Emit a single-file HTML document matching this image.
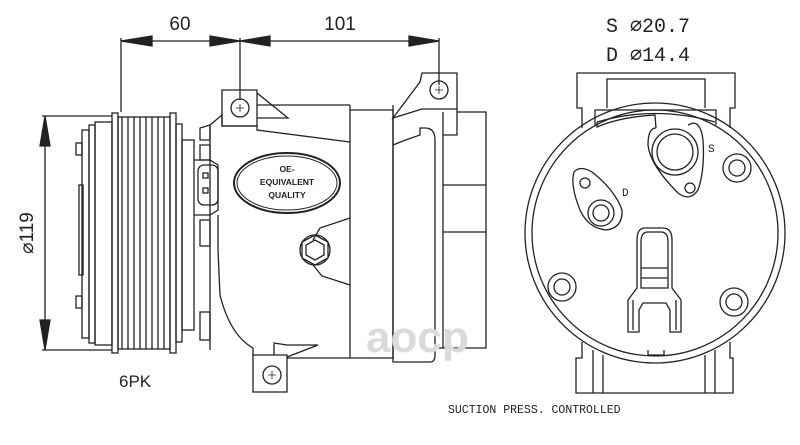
<!DOCTYPE html>
<html><head><meta charset="utf-8"><style>
html,body{margin:0;padding:0;background:#fff;width:800px;height:445px;overflow:hidden}
svg{display:block}
text{font-family:"Liberation Mono",monospace;fill:#222}
</style></head><body>
<svg width="800" height="445" viewBox="0 0 800 445" xmlns="http://www.w3.org/2000/svg">
<g stroke="#222" stroke-width="1.3" fill="none">
<line x1="121" y1="38" x2="121" y2="112"/>
<line x1="240" y1="38" x2="240" y2="100"/>
<line x1="439" y1="38" x2="439" y2="85"/>
<line x1="121" y1="41" x2="439" y2="41"/>
<polygon points="121,41 152,36 152,46" fill="#222"/>
<polygon points="240,41 210,36 210,46" fill="#222"/>
<polygon points="240,41 270,36 270,46" fill="#222"/>
<polygon points="439,41 409,36 409,46" fill="#222"/>
<line x1="42" y1="116" x2="112" y2="116"/>
<line x1="42" y1="350" x2="112" y2="350"/>
<line x1="45" y1="116" x2="45" y2="350"/>
<polygon points="45,116 40,146 50,146" fill="#222"/>
<polygon points="45,350 40,320 50,320" fill="#222"/>
<rect x="82" y="130" width="7" height="208"/>
<rect x="76" y="143" width="6" height="12"/><rect x="76" y="296" width="6" height="12"/>
<rect x="79" y="185" width="4" height="90"/>
<rect x="89" y="125" width="6" height="218"/>
<rect x="95" y="122" width="17" height="223"/>
<rect x="112" y="113" width="6" height="240"/>
<rect x="118" y="117" width="52" height="232"/>
<path d="M122 117 V349 M128 117 V349 M134 117 V349 M140 117 V349 M146 117 V349 M152 117 V349 M158 117 V349 M164 117 V349"/>
<rect x="170" y="113" width="6" height="240"/>
<rect x="176" y="124" width="6" height="218"/>
<rect x="182" y="140" width="12" height="190"/>
<path d="M200 128 L210 125 L210 140 L200 140 Z M200 145 L210 145 L210 160 L200 160 Z"/>
<path d="M194 160 L210 160 L218 165 L218 210 L210 215 L194 215"/>
<rect x="198" y="165" width="20" height="40" rx="6"/>
<rect x="203" y="173" width="5" height="5"/><rect x="203" y="188" width="5" height="5"/>
<rect x="200" y="220" width="10" height="26"/>
<rect x="200" y="312" width="10" height="28"/>
<path d="M210 125 L222 115 L222 126 L257 126 L257 130 L350 142"/>
<path d="M210 125 V350"/>
<path d="M218 215 L218 250 L220 295 Q230 335 253 348"/>
<path d="M222 90 H257 V126 H222 Z"/>
<circle cx="240" cy="108" r="9"/>
<path d="M240 104 V112 M236 108 H244" stroke-width="0.8"/>
<path d="M257 93 L288 118 L257 118"/>
<line x1="257" y1="105" x2="350" y2="105"/>
<line x1="350" y1="105" x2="350" y2="358"/>
<path d="M350 218 L320 228 L313 240 M313 265 L322 276 L350 285"/>
<path d="M253 348 L253 355 L287 355 L287 392 L253 392 Z"/>
<circle cx="272" cy="375" r="9"/>
<path d="M272 371 V379 M268 375 H276" stroke-width="0.8"/>
<path d="M287 357 L318 345 L287 345 L274 343 L274 355"/>
<path d="M287 358 H350"/>
<polygon points="315,235 328,242 328,258 315,265 302,258 302,242"/>
<circle cx="315" cy="250" r="15"/>
<polygon points="315,240 324,245 324,255 315,260 306,255 306,245"/>
<path d="M350 110 H393 V358 H350"/>
<path d="M393 105 V362 H430 Q435 362 435 355 V140 Q435 128 425 128 L420 128 L420 135 Q405 140 393 145"/>
<path d="M393 118 L420 82 L422 73 H457 V109 H422 Z"/>
<circle cx="439" cy="90" r="9"/>
<path d="M439 86 V94 M435 90 H443" stroke-width="0.8"/>
<path d="M457 112 H486 V348 H435 M443 112 V348 M443 185 H486 M443 232 H486"/>
<path d="M457 109 V135 H443"/>
<ellipse cx="287" cy="183" rx="53" ry="30" stroke-width="2"/>
<ellipse cx="287" cy="183" rx="50" ry="27" stroke-width="1"/>
</g>
<g font-weight="bold" font-size="8.5" text-anchor="middle">
<text x="287" y="172" style="font-family:'Liberation Sans',sans-serif">OE-</text>
<text x="287" y="185" style="font-family:'Liberation Sans',sans-serif">EQUIVALENT</text>
<text x="287" y="198" style="font-family:'Liberation Sans',sans-serif">QUALITY</text>
</g>
<text x="366" y="352" font-size="44" font-weight="bold" style="font-family:'Liberation Sans',sans-serif;fill:#dadada">aocp</text>
<text x="180" y="30" font-size="19" text-anchor="middle" style="font-family:'Liberation Sans',sans-serif">60</text>
<text x="340" y="30" font-size="19" text-anchor="middle" style="font-family:'Liberation Sans',sans-serif">101</text>
<text transform="translate(33,233) rotate(-90)" font-size="19" text-anchor="middle" style="font-family:'Liberation Sans',sans-serif">⌀119</text>
<text x="119" y="387" font-size="17" style="font-family:'Liberation Sans',sans-serif">6PK</text>
<text x="448" y="413" font-size="11.5">SUCTION PRESS. CONTROLLED</text>
<text x="606" y="32" font-size="20">S ⌀20.7</text>
<text x="606" y="61" font-size="20">D ⌀14.4</text>
<g stroke="#222" stroke-width="1.3" fill="none">
<path d="M582 128 V108 H577 V73 H735 V108 H730 V128"/>
<path d="M607 108 V79 H705 V108"/>
<path d="M595 125 V110 H716 V125"/>
<circle cx="655" cy="233" r="130"/>
<circle cx="655" cy="233" r="123"/>
<path d="M597 122 Q655 105 715 122"/>
<path d="M597 122 L597 127 Q620 117 655 115 L656 128"/>
<path d="M582 342 V358 H576 V393 H733 V358 H730 V342 M593 350 V393 M603 355 V393 M705 355 V393 M715 350 V393"/>
<path d="M648 350 V355 H664 V350"/>
<path d="M656 128 Q648 128 648 145 Q650 165 678 193 Q690 202 698 190 Q705 170 703 140 Q701 123 693 123 L688 125"/>
<circle cx="675" cy="152" r="23"/>
<circle cx="675" cy="152" r="18"/>
<circle cx="690" cy="188" r="5"/>
<path d="M574 172 Q580 165 592 172 Q615 190 622 210 Q623 228 606 230 Q588 228 580 210 Q570 185 574 172 Z"/>
<circle cx="585" cy="183" r="5"/>
<circle cx="601" cy="213" r="13"/>
<circle cx="601" cy="213" r="8"/>
<circle cx="737" cy="168" r="14"/><circle cx="737" cy="168" r="8"/>
<circle cx="562" cy="287" r="14"/><circle cx="562" cy="287" r="8"/>
<circle cx="734" cy="302" r="14"/><circle cx="734" cy="302" r="8"/>
<path d="M628 332 V300 L637 288 V240 Q637 228 645 228 H663 Q672 228 672 240 V288 L681 300 V332 H670 V310 L666 303 H643 L639 310 V332 Z"/>
<path d="M641 288 V242 Q641 232 648 232 H661 Q668 232 668 242 V288 Z M641 268 H668 M641 278 H668 M633 300 V330 M676 300 V330"/>
</g>
<text x="708" y="152" font-size="11">S</text>
<text x="622" y="196" font-size="11">D</text>
</svg>
</body></html>
